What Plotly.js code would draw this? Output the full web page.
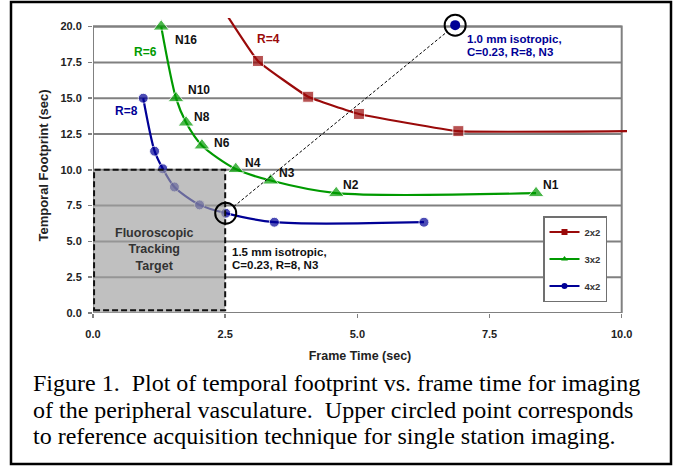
<!DOCTYPE html>
<html>
<head>
<meta charset="utf-8">
<script src="https://cdn.plot.ly/plotly-3.0.1.min.js"></script>
<style>html,body{margin:0;padding:0;background:#fff;}#chart{width:678px;height:466px;}</style>
</head>
<body>
<div id="chart"></div>
<script>
// ---------------- data ----------------
const xTicks = [0, 2.5, 5, 7.5, 10];
const yTicks = [0, 2.5, 5, 7.5, 10, 12.5, 15, 17.5, 20];

// 2x2 (R=4)
const frameTime2x2 = [2.41, 3.12, 4.07, 5.03, 6.91, 10.1];
const footprint2x2 = [21.5, 17.6, 15.1, 13.9, 12.7, 12.7];
// 3x2 (R=6)
const frameTime3x2 = [1.29, 1.57, 1.76, 2.06, 2.70, 3.36, 4.60, 8.38];
const footprint3x2 = [20.0, 15.0, 13.3, 11.7, 10.05, 9.25, 8.37, 8.37];
const nLabels3x2 = ["N16", "N10", "N8", "N6", "N4", "N3", "N2", "N1"];
// 4x2 (R=8)
const frameTime4x2 = [0.95, 1.165, 1.32, 1.54, 2.015, 2.51, 3.43, 6.26];
const footprint4x2 = [15.0, 11.3, 10.07, 8.8, 7.55, 6.97, 6.34, 6.34];
// reference acquisition point (upper circled)
const refFrameTime = [6.85];
const refFootprint = [20.1];
const circledIndex4x2 = 5;
// fluoroscopic tracking target
const targetFrameTime = 2.5;
const targetFootprint = 10;

const seriesNames = ["2x2", "3x2", "4x2"];
const seriesR = ["R=4", "R=6", "R=8"];
const upperNote = ["1.0 mm isotropic,", "C=0.23, R=8, N3"];
const lowerNote = ["1.5 mm isotropic,", "C=0.23, R=8, N3"];
const targetNote = ["Fluoroscopic", "Tracking", "Target"];
const xTitle = "Frame Time (sec)";
const yTitle = "Temporal Footprint (sec)";
const caption = [
  "Figure 1.\u00a0 Plot of temporal footprint vs. frame time for imaging",
  "of the peripheral vasculature.\u00a0 Upper circled point corresponds",
  "to reference acquisition technique for single station imaging."
];

// ---------------- layout geometry ----------------
const W = 678, H = 466;
const ML = 93, MR = 51, MT = 18, MB = 153;
const XR = [0, 10.1], YR = [0, 20.6];
const plotW = W - ML - MR, plotH = H - MT - MB;
const kx = plotW / (XR[1] - XR[0]);
const ky = plotH / (YR[1] - YR[0]);
const px2x = p => (p - ML) / plotW;          // pixel -> paper x
const py2y = p => (H - MB - p) / plotH;      // pixel -> paper y

const RED = "#9a0a0a", GREEN = "#009a00", BLUE = "#000096";
const FONT = "Liberation Sans, Arial, sans-serif";
const GRID = "#808080";
const CIRCLE_R = 10.5; // px

const inView = (x, y) => x >= 0 && x <= 10 && y >= 0 && y <= 20;

const traces = [];
function series(xs, ys, color, symbol, size, smoothing) {
  return {
    x: xs, y: ys, type: "scatter", mode: "lines+markers",
    line: {color: color, width: 2.2, shape: "spline", smoothing: smoothing},
    marker: {color: color, symbol: symbol, size: xs.map((x, i) => inView(x, ys[i]) ? size : 0)},
    showlegend: false, hoverinfo: "skip", cliponaxis: false
  };
}
traces.push(series(frameTime2x2, footprint2x2, RED, "square", 11, 0.3));
traces.push(series(frameTime3x2, footprint3x2, GREEN, "triangle-up", 14, 0.8));
traces.push(series(frameTime4x2, footprint4x2, BLUE, "circle", 10, 0.8));
// reference point
traces.push({x: refFrameTime, y: refFootprint, type: "scatter", mode: "markers",
  marker: {color: BLUE, size: 10}, showlegend: false, hoverinfo: "skip", cliponaxis: false});
// highlight circle around reference point
traces.push({x: refFrameTime, y: refFootprint, type: "scatter", mode: "markers",
  marker: {symbol: "circle-open", size: 2 * CIRCLE_R, color: "#000", line: {color: "#000", width: 2}},
  showlegend: false, hoverinfo: "skip", cliponaxis: false});
// legend entries
[[RED, "square"], [GREEN, "triangle-up"], [BLUE, "circle"]].forEach((s, i) => {
  traces.push({x: [null], y: [null], type: "scatter", mode: "lines+markers", name: seriesNames[i],
    legendgroup: "g" + i, line: {color: s[0], width: 2}, marker: {color: s[0], symbol: s[1], size: 6}});
});

// ---------------- shapes ----------------
const shapes = [];
// gridlines
yTicks.forEach(v => shapes.push({type: "line", xref: "x", yref: "y", x0: 0, x1: 10, y0: v, y1: v,
  line: {color: GRID, width: 2}, layer: "below"}));
// plot area border
shapes.push({type: "rect", xref: "x", yref: "y", x0: 0, x1: 10, y0: 0, y1: 20,
  line: {color: GRID, width: 2}, layer: "below"});
// target area
shapes.push({type: "rect", xref: "x", yref: "y", x0: 0, x1: targetFrameTime, y0: 0, y1: targetFootprint,
  fillcolor: "#a0a0a0", opacity: 0.66, line: {width: 0}, layer: "above"});
shapes.push({type: "rect", xref: "x", yref: "y", x0: 0.02, x1: targetFrameTime, y0: 0.2, y1: targetFootprint,
  line: {color: "#111", width: 2, dash: "6px,3px"}, layer: "above"});
// highlight circle around the circled 4x2 point
const cX = frameTime4x2[circledIndex4x2], cY = footprint4x2[circledIndex4x2];
shapes.push({type: "circle", xref: "x", yref: "y",
  x0: cX - CIRCLE_R / kx, x1: cX + CIRCLE_R / kx, y0: cY - CIRCLE_R / ky, y1: cY + CIRCLE_R / ky,
  line: {color: "#000", width: 2}, layer: "above"});
// dashed connector between circles
(function () {
  const ax = cX * kx, ay = cY * ky, bx = refFrameTime[0] * kx, by = refFootprint[0] * ky;
  const len = Math.hypot(bx - ax, by - ay), r = CIRCLE_R;
  const ux = (bx - ax) / len, uy = (by - ay) / len;
  shapes.push({type: "line", xref: "x", yref: "y",
    x0: (ax + ux * r) / kx, y0: (ay + uy * r) / ky, x1: (bx - ux * r) / kx, y1: (by - uy * r) / ky,
    line: {color: "#000", width: 1, dash: "3px,2px"}, layer: "above"});
})();
// outer figure frame
shapes.push({type: "rect", xref: "paper", yref: "paper", x0: px2x(11), x1: px2x(671), y0: py2y(464), y1: py2y(2),
  line: {color: "#000", width: 2.5}, layer: "above"});

// ---------------- annotations ----------------
const ann = [];
const lblFont = {family: FONT, size: 12, color: "#111", weight: "bold"};
const nOffsets = [[12, -13], [10, 8], [6, 6], [10, 2], [7, 6], [6, 8], [5, 8], [5, 8]];
nLabels3x2.forEach((t, i) => ann.push({x: frameTime3x2[i], y: footprint3x2[i], xref: "x", yref: "y",
  text: t, showarrow: false, xanchor: "left", yanchor: "middle",
  xshift: nOffsets[i][0], yshift: nOffsets[i][1], font: lblFont}));
const rPos = [[3.31, 19.1, RED], [1.0, 18.2, GREEN], [0.63, 14.1, BLUE]];
seriesR.forEach((t, i) => ann.push({x: rPos[i][0], y: rPos[i][1], xref: "x", yref: "y", text: t,
  showarrow: false, font: {family: FONT, size: 12, color: rPos[i][2], weight: "bold"}}));
upperNote.forEach((t, i) => ann.push({x: refFrameTime[0], y: refFootprint[0], xref: "x", yref: "y",
  text: t, showarrow: false, xanchor: "left", yanchor: "middle", xshift: 11, yshift: -14 - 13 * i,
  borderpad: 0, font: {family: FONT, size: 11.5, color: BLUE, weight: "bold"}}));
lowerNote.forEach((t, i) => ann.push({x: cX, y: cY, xref: "x", yref: "y",
  text: t, showarrow: false, xanchor: "left", yanchor: "middle", xshift: 5, yshift: -39 - 13 * i,
  borderpad: 0, font: {family: FONT, size: 11.5, color: "#111", weight: "bold"}}));
ann.push({x: 1.17, y: 4.4, xref: "x", yref: "y", text: targetNote.join("<br>"), showarrow: false,
  font: {family: FONT, size: 12.5, color: "#333", weight: "bold"}});
caption.forEach((t, i) => ann.push({x: px2x(31), y: py2y(383 + 26.5 * i), xref: "paper", yref: "paper",
  text: t, showarrow: false, xanchor: "left", yanchor: "middle",
  font: {family: "Liberation Serif, Times New Roman, serif", size: 24, color: "#000"}}));

const layout = {
  width: W, height: H,
  margin: {l: ML, r: MR, t: MT, b: MB, pad: 0},
  paper_bgcolor: "#fff", plot_bgcolor: "#fff",
  font: {family: FONT, color: "#222"},
  showlegend: true,
  legend: {x: px2x(543), y: py2y(216), xanchor: "left", yanchor: "top",
    bgcolor: "#fff", bordercolor: "#707070", borderwidth: 1.5,
    font: {family: FONT, size: 9.5, color: "#333", weight: "bold"},
    traceorder: "grouped", tracegroupgap: 8, itemwidth: 30},
  xaxis: {range: XR, tickvals: xTicks, tickformat: ".1f", showgrid: false, zeroline: false,
    showline: false, ticks: "outside", ticklen: 4, tickwidth: 1.5, tickcolor: GRID,
    ticklabelstandoff: 7,
    tickfont: {family: FONT, size: 11, color: "#222", weight: "bold"},
    title: {text: xTitle, standoff: 12, font: {family: FONT, size: 12.5, color: "#222", weight: "bold"}},
    fixedrange: true},
  yaxis: {range: YR, tickvals: yTicks, tickformat: ".1f", showgrid: false, zeroline: false,
    showline: false, ticks: "outside", ticklen: 4, tickwidth: 1.5, tickcolor: GRID,
    ticklabelstandoff: 4,
    tickfont: {family: FONT, size: 11, color: "#222", weight: "bold"},
    title: {text: yTitle, standoff: 8, font: {family: FONT, size: 13, color: "#222", weight: "bold"}},
    fixedrange: true},
  shapes: shapes,
  annotations: ann
};

Plotly.newPlot("chart", traces, layout, {staticPlot: true, displayModeBar: false});
</script>
</body>
</html>
